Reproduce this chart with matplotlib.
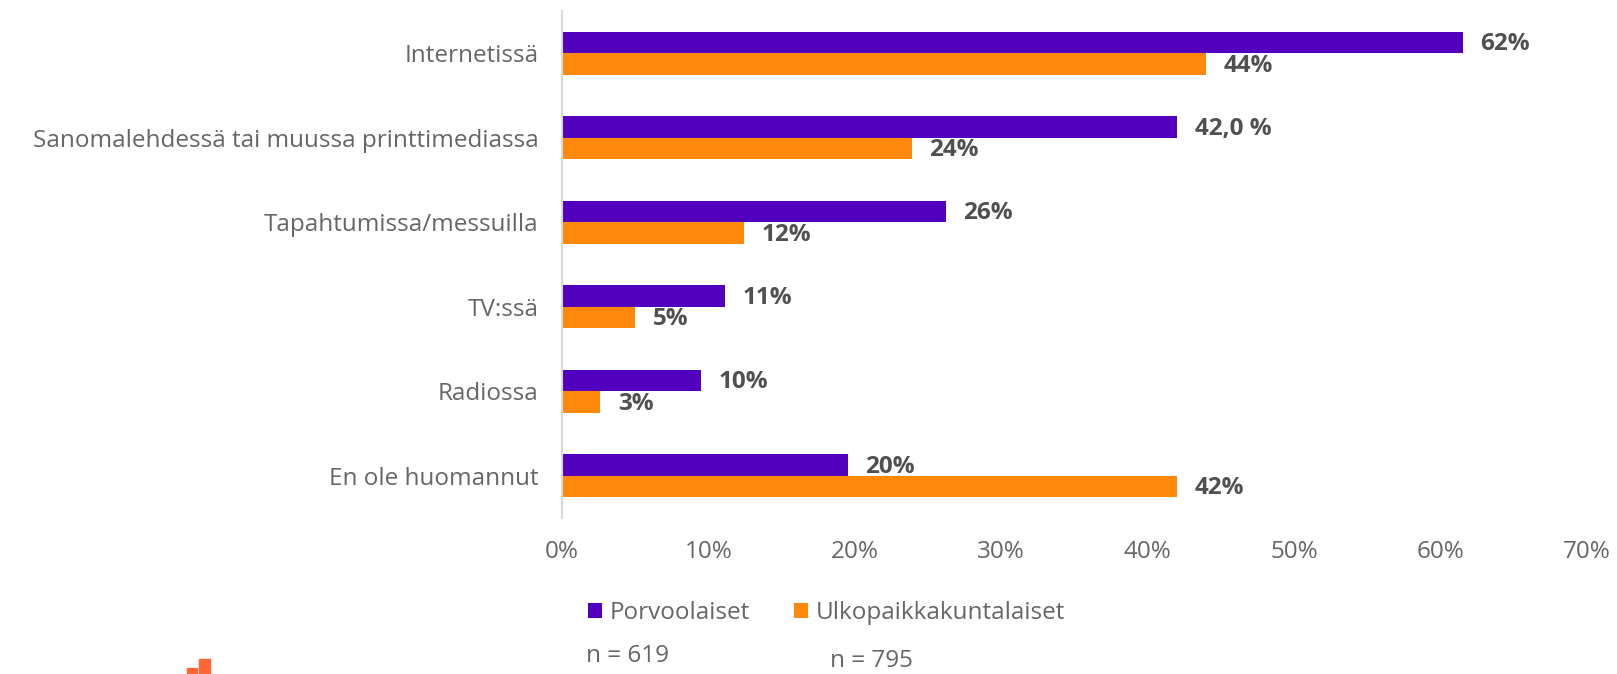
import matplotlib.pyplot as plt
from matplotlib.patches import Rectangle

plt.rcParams['font.family'] = ['Open Sans', 'DejaVu Sans']

categories = ['Internetissä', 'Sanomalehdessä tai muussa printtimediassa',
              'Tapahtumissa/messuilla', 'TV:ssä', 'Radiossa', 'En ole huomannut']
porvoo = [61.5, 42.0, 26.2, 11.1, 9.5, 19.5]
ulko = [44.0, 23.9, 12.4, 5.0, 2.6, 42.0]
porvoo_labels = ['62%', '42,0 %', '26%', '11%', '10%', '20%']
ulko_labels = ['44%', '24%', '12%', '5%', '3%', '42%']
series_names = ['Porvoolaiset', 'Ulkopaikkakuntalaiset']
n_texts = ['n = 619', 'n = 795']
xticks = [0, 10, 20, 30, 40, 50, 60, 70]

purple = '#5200BE'
orange = '#FF870A'
label_grey = '#666666'
value_grey = '#505050'
fs = 17.5

fig = plt.figure(figsize=(16.17, 6.74), dpi=100)
ax = fig.add_axes([562 / 1617, 1 - 518 / 674, 1025 / 1617, 507 / 674])

y = list(range(len(categories)))
h = 0.257
ax.barh([i - h / 2 for i in y], porvoo, height=h, color=purple, label=series_names[0])
ax.barh([i + h / 2 for i in y], ulko, height=h, color=orange, label=series_names[1])

for i in y:
    ax.text(porvoo[i] + 1.2, i - h / 2 + 0.02, porvoo_labels[i], va='center', ha='left',
            fontsize=fs, fontweight='bold', color=value_grey)
    ax.text(ulko[i] + 1.2, i + h / 2 + 0.02, ulko_labels[i], va='center', ha='left',
            fontsize=fs, fontweight='bold', color=value_grey)

ax.set_ylim(5.5, -0.5)
ax.set_xlim(0, 70)
ax.set_yticks(y)
ax.set_yticklabels(categories, fontsize=fs, color=label_grey)
ax.set_xticks(xticks)
ax.set_xticklabels([f'{t}%' for t in xticks], fontsize=fs, color=label_grey)
ax.tick_params(axis='both', length=0)
ax.tick_params(axis='y', pad=17)
ax.tick_params(axis='x', pad=16)
for s in ['top', 'right', 'bottom']:
    ax.spines[s].set_visible(False)
ax.spines['left'].set_color('#D9D9D9')
ax.spines['left'].set_linewidth(1.5)

leg = fig.legend(loc='center left', bbox_to_anchor=(0.35, 0.09), ncol=2, frameon=False,
                 fontsize=fs, handlelength=0.6, handleheight=0.6, handletextpad=0.3,
                 columnspacing=1.8)
for t in leg.get_texts():
    t.set_color(label_grey)

fig.text(586 / 1617, 1 - 656 / 674, n_texts[0], fontsize=fs, color=label_grey, va='center')
fig.text(830 / 1617, 1 / 674, n_texts[1], fontsize=fs, color=label_grey, va='bottom')

# small logo fragment in the bottom-left corner
fig.patches.append(Rectangle((187 / 1617, 0), 10 / 1617, 6 / 674, transform=fig.transFigure,
                             color='#FF6633'))
fig.patches.append(Rectangle((199 / 1617, 0), 11 / 1617, 15 / 674, transform=fig.transFigure,
                             color='#FF6633'))

plt.savefig('out.png', dpi=100)
